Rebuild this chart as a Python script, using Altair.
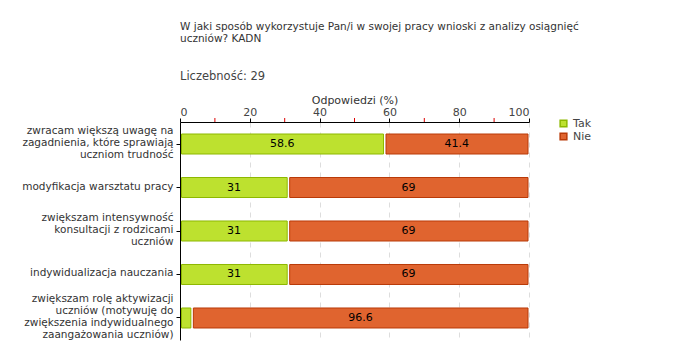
import altair as alt
import pandas as pd

categories = [
    "zwracam większą uwagę na|zagadnienia, które sprawiają|uczniom trudność",
    "modyfikacja warsztatu pracy",
    "zwiększam intensywność|konsultacji z rodzicami|uczniów",
    "indywidualizacja nauczania",
    "zwiększam rolę aktywizacji|uczniów (motywuję do|zwiększenia indywidualnego|zaangażowania uczniów)",
]
tak = [58.6, 31, 31, 31, 3.4]
nie = [41.4, 69, 69, 69, 96.6]
series = ["Tak", "Nie"]
fill_colors = ["#bde12f", "#e0642f"]
stroke_colors = ["#8db800", "#b93a08"]
major_ticks = [0, 20, 40, 60, 80, 100]
minor_ticks = [10, 30, 50, 70, 90]

FONT = "DejaVu Sans"
LH = 12

rows = []
for i, c in enumerate(categories):
    rows.append(dict(cat=c, series="Tak", start=0.0, end=tak[i], value=tak[i]))
    rows.append(dict(cat=c, series="Nie", start=tak[i], end=tak[i] + nie[i], value=nie[i]))
df = pd.DataFrame(rows)
df["label"] = df["value"].map(lambda v: f"{v:g}")
df["mid"] = (df["start"] + df["end"]) / 2

label_offset = {
    "condition": [
        {"test": "length(split(datum.value, '|')) == 4", "value": -2 * LH},
        {"test": "length(split(datum.value, '|')) == 3", "value": -1.5 * LH},
        {"test": "length(split(datum.value, '|')) == 2", "value": -1 * LH},
    ],
    "value": -0.5 * LH,
}

y_enc = alt.Y(
    "cat:N",
    sort=categories,
    scale=alt.Scale(paddingInner=0.54, paddingOuter=0.276),
    axis=alt.Axis(
        title=None,
        labelExpr="split(datum.label, '|')",
        labelLineHeight=LH,
        labelFontSize=10.5,
        labelFont=FONT,
        labelColor="#333",
        labelBaseline="top",
        labelOffset=label_offset,
        domainColor="black",
        tickColor="black",
        tickSize=4,
        labelPadding=3,
        labelLimit=300,
        grid=False,
    ),
)

x_scale = alt.Scale(domain=[0, 100], nice=False)

legend_def = alt.Legend(
    title=None,
    symbolType="square",
    symbolSize=45,
    labelFont=FONT,
    labelFontSize=11,
    labelColor="#444",
    rowPadding=0,
    orient="none",
    legendX=378,
    legendY=-4,
    padding=0,
)

bars = alt.Chart(df).mark_bar(strokeWidth=1, xOffset=1.5, x2Offset=-1).encode(
    x=alt.X(
        "start:Q",
        scale=x_scale,
        axis=alt.Axis(
            orient="top",
            title="Odpowiedzi (%)",
            titleFont=FONT,
            titleFontSize=11,
            titleFontWeight="normal",
            titleColor="#333",
            titlePadding=1,
            values=major_ticks,
            labelFont=FONT,
            labelFontSize=11,
            labelColor="#444",
            labelPadding=1,
            domainColor="black",
            tickColor="black",
            tickSize=4,
            grid=True,
            gridDash=[5, 5],
            gridColor="#dddddd",
        ),
    ),
    x2="end:Q",
    y=y_enc,
    color=alt.Color(
        "series:N",
        scale=alt.Scale(domain=series, range=fill_colors),
        legend=legend_def,
    ),
    stroke=alt.Stroke(
        "series:N",
        scale=alt.Scale(domain=series, range=stroke_colors),
        legend=legend_def,
    ),
)

text = alt.Chart(df).transform_filter("datum.value > 5").mark_text(
    fontSize=11, font=FONT, color="black"
).encode(
    x=alt.X("mid:Q", scale=x_scale),
    y=alt.Y("cat:N", sort=categories),
    text="label:N",
)

minor = alt.Chart(pd.DataFrame({"t": minor_ticks})).mark_rule(color="#dd0000").encode(
    x=alt.X("t:Q", scale=x_scale),
    y=alt.value(-4),
    y2=alt.value(0),
)

chart = alt.layer(bars, text, minor).properties(
    width=349,
    height=218,
    padding={"left": 13, "top": 14, "right": 5, "bottom": 3},
    title=alt.Title(
        ["W jaki sposób wykorzystuje Pan/i w swojej pracy wnioski z analizy osiągnięć", "uczniów? KADN"],
        subtitle="Liczebność: 29",
        anchor="start",
        frame="group",
        font=FONT,
        fontSize=10.5,
        fontWeight="normal",
        color="#333",
        lineHeight=12,
        subtitleFont=FONT,
        subtitleFontSize=11.5,
        subtitleColor="#444",
        subtitlePadding=26,
        offset=12,
    ),
).configure_view(stroke=None)

chart.save("out.html", embed_options={"renderer": "svg", "actions": False})
